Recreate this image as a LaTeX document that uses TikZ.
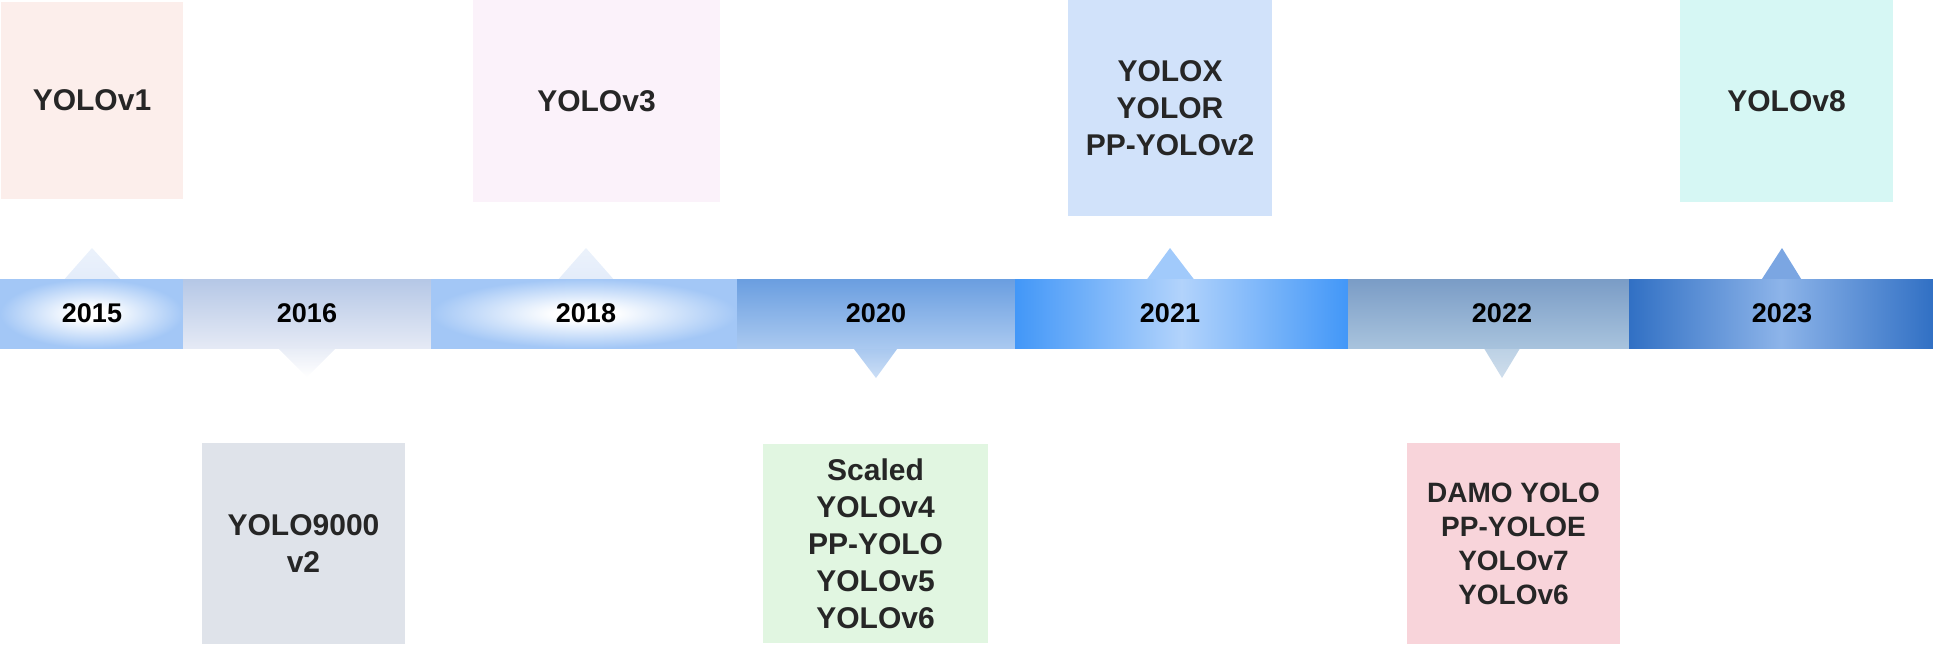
\documentclass[tikz,border=0pt]{standalone}
\usepackage{fontspec}
\setmainfont{Liberation Sans}

% box fills
\definecolor{fillv1}{HTML}{FCEEEB}
\definecolor{fillnine}{HTML}{DFE3EA}
\definecolor{fillv3}{HTML}{FBF2FA}
\definecolor{fillscaled}{HTML}{E1F6E1}
\definecolor{fillyolox}{HTML}{D1E2FA}
\definecolor{filldamo}{HTML}{F8D4DA}
\definecolor{fillv8}{HTML}{D6F7F4}
% band colours
\definecolor{bandlight}{HTML}{A3C7F6}
\definecolor{bandpale}{HTML}{E3ECFA}
\definecolor{bandgreytop}{HTML}{B5C7E6}
\definecolor{bandgreybot}{HTML}{E5EAF5}
\definecolor{bandmidtop}{HTML}{6A9EE0}
\definecolor{bandmidbot}{HTML}{AAC9F0}
\definecolor{bandbright}{HTML}{4297F8}
\definecolor{bandbrightmid}{HTML}{B2D3FB}
\definecolor{bandsteeltop}{HTML}{7A9CC6}
\definecolor{bandsteelbot}{HTML}{A8C3DD}
\definecolor{banddeep}{HTML}{3170C4}
\definecolor{banddeepmid}{HTML}{8DB4E9}

% white glow for the light segments
\pgfdeclareradialshading{glow}{\pgfpoint{0bp}{0bp}}{color(0bp)=(white);
  color(5bp)=(white); color(14bp)=(bandlight!45!white); color(25bp)=(bandlight); color(50bp)=(bandlight)}

\begin{document}
\begin{tikzpicture}
  [x=0.5pt, y=-0.5pt,
   box/.style={rectangle, inner sep=0pt, align=center, text=black!85,
     font=\bfseries\fontsize{15}{18.5}\selectfont},
   seg/.style={rectangle, inner sep=0pt, outer sep=0pt, minimum height=34.5pt},
   year/.style={inner sep=0pt, text=black, font=\bfseries\fontsize{13.5}{16}\selectfont}]
  \useasboundingbox (0,0) rectangle (1933,648);

  % pointers
  \shade[top color=bandpale!70!white, bottom color=bandpale] (62,282) -- (92,248) -- (123,282) -- cycle;
  \shade[top color=bandpale!70!white, bottom color=bandpale] (556,282) -- (586,248) -- (616,282) -- cycle;
  \fill[color=bandbrightmid!85!bandbright] (1145,282) -- (1170,248) -- (1196,282) -- cycle;
  \fill[color=banddeepmid!80!banddeep] (1760,282) -- (1782,248) -- (1803,282) -- cycle;
  \shade[top color=bandgreybot, bottom color=white] (275,345) -- (339,345) -- (307,377) -- cycle;
  \shade[top color=bandmidbot!90!bandmidtop, bottom color=bandmidbot!60!white] (851,345) -- (900,345) -- (876,378) -- cycle;
  \shade[top color=bandsteelbot!80!white, bottom color=bandsteelbot!55!white] (1482,345) -- (1522,345) -- (1502,378) -- cycle;

  % timeline band
  \node[seg, minimum width=91.5pt, shade, shading=glow] (s2015) at (91.5,313.5) {};
  \node[seg, minimum width=124pt, top color=bandgreytop, bottom color=bandgreybot] (s2016) at (307,313.5) {};
  \node[seg, minimum width=153pt, shade, shading=glow] (s2018) at (584,313.5) {};
  \node[seg, minimum width=139pt, top color=bandmidtop, bottom color=bandmidbot] (s2020) at (876,313.5) {};
  \node[seg, minimum width=166.5pt, left color=bandbright, right color=bandbright, middle color=bandbrightmid] (s2021) at (1181.5,313.5) {};
  \node[seg, minimum width=140.5pt, top color=bandsteeltop, bottom color=bandsteelbot] (s2022) at (1488.5,313.5) {};
  \node[seg, minimum width=152pt, left color=banddeep, right color=banddeep, middle color=banddeepmid] (s2023) at (1781,313.5) {};

  \node[year] (y2015) at (92,313) {2015};
  \node[year] (y2016) at (307,313) {2016};
  \node[year] (y2018) at (586,313) {2018};
  \node[year] (y2020) at (876,313) {2020};
  \node[year] (y2021) at (1170,313) {2021};
  \node[year] (y2022) at (1502,313) {2022};
  \node[year] (y2023) at (1782,313) {2023};

  % model boxes
  \node[box, fill=fillv1, minimum width=91pt, minimum height=98.5pt] (v1) at (92,100.5) {YOLOv1};
  \node[box, fill=fillnine, minimum width=101.5pt, minimum height=100.5pt] (nine) at (303.5,543.5) {YOLO9000\\v2};
  \node[box, fill=fillv3, minimum width=123.5pt, minimum height=101pt] (v3) at (596.5,101) {YOLOv3};
  \node[box, fill=fillscaled, minimum width=112.5pt, minimum height=99.5pt] (scaled) at (875.5,543.5)
    {Scaled\\YOLOv4\\PP-YOLO\\YOLOv5\\YOLOv6};
  \node[box, fill=fillyolox, minimum width=102pt, minimum height=108pt] (yolox) at (1170,108)
    {YOLOX\\YOLOR\\PP-YOLOv2};
  \node[box, fill=filldamo, minimum width=106.5pt, minimum height=100.5pt,
    font=\bfseries\fontsize{14}{17}\selectfont] (damo) at (1513.5,543.5)
    {DAMO YOLO\\PP-YOLOE\\YOLOv7\\YOLOv6};
  \node[box, fill=fillv8, minimum width=106.5pt, minimum height=101pt] (v8) at (1786.5,101) {YOLOv8};
\end{tikzpicture}
\end{document}
